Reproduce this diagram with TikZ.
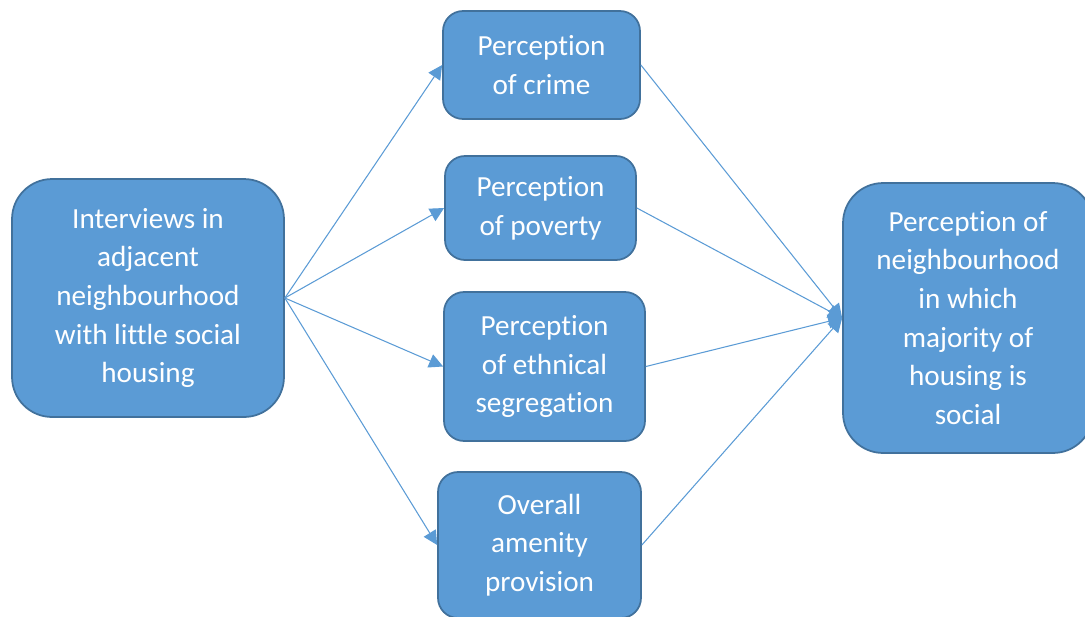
\documentclass[tikz,border=0pt]{standalone}
\usepackage{fontspec}
\setmainfont{Carlito}[Ligatures=NoCommon]
\usetikzlibrary{positioning,arrows.meta}
\definecolor{BoxFill}{HTML}{5B9BD5}
\definecolor{BoxLine}{HTML}{41719C}
\begin{document}
\begin{tikzpicture}[x=0.02cm,y=-0.02cm,
    box/.style={draw=BoxLine,line width=1pt,fill=BoxFill,text=white,
      align=center,inner sep=0pt,
      font=\fontsize{16.6}{22}\selectfont},
    link/.style={draw=BoxFill,line width=0.6pt,-{Triangle[length=8pt,width=8pt]}}]
        \useasboundingbox (0,0) rectangle (1085,616);

        % Source box
        \node[box,rounded corners=0.8cm,minimum width=5.44cm,minimum height=4.76cm]
          (inter) at (148,298) {Interviews in\\adjacent\\neighbourhood\\with little social\\housing};

        % Middle boxes
        \node[box,rounded corners=0.4cm,minimum width=3.94cm,minimum height=2.16cm]
          (crime) at (541.5,65) {Perception\\of crime};
        \node[box,rounded corners=0.4cm,minimum width=3.82cm,minimum height=2.08cm]
          (poverty) at (540.5,208) {Perception\\of poverty};
        \node[box,rounded corners=0.4cm,minimum width=4.02cm,minimum height=2.98cm]
          (ethnic) at (544.5,366.5) {Perception\\of ethnical\\segregation};
        \node[box,rounded corners=0.4cm,minimum width=4.06cm,minimum height=2.92cm]
          (amenity) at (539.5,545) {Overall\\amenity\\provision};

        % Outcome box
        \node[box,rounded corners=0.8cm,minimum width=5.0cm,minimum height=5.4cm]
          (social) at (968,318) {Perception of\\neighbourhood\\in which\\majority of\\housing is\\social};

        % Arrows out of the source
        \foreach \m in {crime,poverty,ethnic,amenity}
          \draw[link] (inter.east) -- (\m.west);

        % Arrows into the outcome
        \foreach \m in {crime,poverty,ethnic,amenity}
          \draw[link] (\m.east) -- (social.west);
\end{tikzpicture}
\end{document}
